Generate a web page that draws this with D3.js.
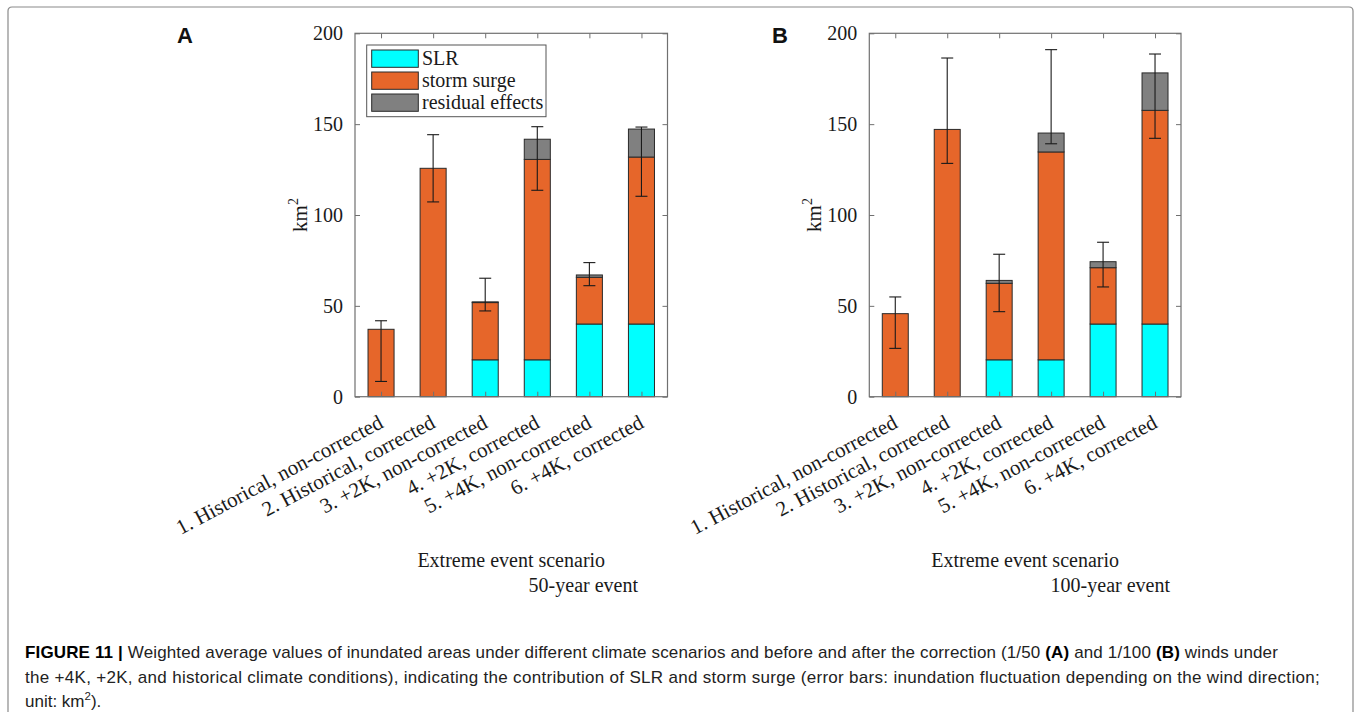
<!DOCTYPE html>
<html>
<head>
<meta charset="utf-8">
<script src="https://cdn.jsdelivr.net/npm/d3@7"></script>
<style>
  html, body { margin: 0; padding: 0; background: #fff; }
  svg { display: block; }
</style>
</head>
<body>
<svg id="chart" width="1356" height="712"></svg>
<script>
// ---------------- DATA ----------------
const categories = ["1. Historical, non-corrected", "2. Historical, corrected", "3. +2K, non-corrected",
                    "4. +2K, corrected", "5. +4K, non-corrected", "6. +4K, corrected"];
const seriesNames = ["SLR", "storm surge", "residual effects"];
const yTicks = [0, 50, 100, 150, 200];

// Panel A (50-year event)
const slrA      = [0, 0, 20.3, 20.3, 40, 40];
const surgeA    = [37.1, 125.7, 31.5, 110.3, 25.7, 91.9];
const residualA = [0, 0, 0.4, 11.1, 1.3, 15.4];
const errLowA   = [8.4, 107.2, 47.2, 113.6, 61.1, 110.3];
const errHighA  = [41.8, 144.2, 65.2, 148.6, 73.8, 148.4];

// Panel B (100-year event)
const slrB      = [0, 0, 20.3, 20.3, 40, 40];
const surgeB    = [45.7, 147.1, 42.1, 114.4, 31.0, 117.6];
const residualB = [0, 0, 1.6, 10.4, 3.3, 20.6];
const errLowB   = [26.6, 128.4, 46.8, 139.2, 60.4, 142.2];
const errHighB  = [54.9, 186.4, 78.4, 191.0, 85.0, 188.6];

const colors = ["#00FFFF", "#E6662A", "#808080"];

// ---------------- DRAW ----------------
const svg = d3.select("#chart");
const serif = "'Liberation Serif', 'Times New Roman', serif";
const sans = "'Liberation Sans', Arial, sans-serif";
const axisColor = "#707070";

// outer frame
svg.append("path")
  .attr("d", "M8,720 L8,11 Q8,7 12,7 L1349,7 Q1353,7 1353,11 L1353,720")
  .attr("fill", "none").attr("stroke", "#8a8a8a").attr("stroke-width", 1.2);

function panel(opts) {
  const g = svg.append("g");
  const x = d3.scaleLinear().domain([0.5, 6.5]).range([opts.left, opts.right]);
  const y = d3.scaleLinear().domain([0, 200]).range([396.7, 33.3]);
  const bw = x(1.25) - x(0.75);

  const rows = categories.map((c, i) => ({
    key: c, idx: i + 1,
    "SLR": opts.slr[i], "storm surge": opts.surge[i], "residual effects": opts.residual[i],
    lo: opts.errLow[i], hi: opts.errHigh[i]
  }));
  const stack = d3.stack().keys(seriesNames)(rows);

  // bars
  stack.forEach((layer, li) => {
    g.append("g").selectAll("rect").data(layer.filter(d => d[1] - d[0] > 0)).join("rect")
      .attr("x", d => x(d.data.idx) - bw / 2)
      .attr("width", bw)
      .attr("y", d => y(d[1]))
      .attr("height", d => y(d[0]) - y(d[1]))
      .attr("fill", colors[li])
      .attr("stroke", "#2a2a2a").attr("stroke-width", 1);
  });

  // error bars
  const eb = g.append("g").attr("stroke", "#1a1a1a").attr("stroke-width", 1.1);
  rows.forEach(d => {
    const cx = x(d.idx);
    eb.append("line").attr("x1", cx).attr("x2", cx).attr("y1", y(d.lo)).attr("y2", y(d.hi));
    eb.append("line").attr("x1", cx - 6).attr("x2", cx + 6).attr("y1", y(d.lo)).attr("y2", y(d.lo));
    eb.append("line").attr("x1", cx - 6).attr("x2", cx + 6).attr("y1", y(d.hi)).attr("y2", y(d.hi));
  });

  // axes box
  g.append("rect").attr("x", opts.left).attr("y", y(200))
    .attr("width", opts.right - opts.left).attr("height", y(0) - y(200))
    .attr("fill", "none").attr("stroke", axisColor).attr("stroke-width", 1.2);

  // left y axis (inward ticks)
  const yAxisL = d3.axisLeft(y).tickValues(yTicks).tickSize(-5).tickPadding(12).tickFormat(d3.format("d"));
  const gyl = g.append("g").attr("transform", `translate(${opts.left},0)`).call(yAxisL);
  gyl.select(".domain").remove();
  gyl.selectAll("line").attr("stroke", axisColor);
  gyl.selectAll("text").attr("font-family", serif).attr("font-size", 20).attr("fill", "#1a1a1a");
  // right y ticks
  const gyr = g.append("g").attr("transform", `translate(${opts.right},0)`)
    .call(d3.axisRight(y).tickValues(yTicks).tickSize(-5).tickFormat(""));
  gyr.select(".domain").remove();
  gyr.selectAll("line").attr("stroke", axisColor);

  // bottom x axis
  const xAxisB = d3.axisBottom(x).tickValues(d3.range(1, 7)).tickSize(-5).tickFormat(d => categories[d - 1]);
  const gxb = g.append("g").attr("transform", `translate(0,${y(0)})`).call(xAxisB);
  gxb.select(".domain").remove();
  gxb.selectAll("line").attr("stroke", axisColor);
  gxb.selectAll("text")
    .attr("font-family", serif).attr("font-size", 21).attr("fill", "#1a1a1a")
    .attr("text-anchor", "end")
    .attr("dy", null).attr("y", null)
    .attr("transform", "translate(3,30) rotate(-28)");
  // top ticks
  const gxt = g.append("g").attr("transform", `translate(0,${y(200)})`)
    .call(d3.axisTop(x).tickValues(d3.range(1, 7)).tickSize(-5).tickFormat(""));
  gxt.select(".domain").remove();
  gxt.selectAll("line").attr("stroke", axisColor);

  // y label
  const yl = g.append("text")
    .attr("transform", `translate(${opts.left - 48},${(y(0) + y(200)) / 2}) rotate(-90)`)
    .attr("text-anchor", "middle").attr("font-family", serif).attr("font-size", 21).attr("fill", "#1a1a1a");
  yl.append("tspan").text("km");
  yl.append("tspan").attr("font-size", 14).attr("dy", -9).text("2");

  // x labels
  const mid = (opts.left + opts.right) / 2;
  g.append("text").attr("x", mid).attr("y", 567).attr("text-anchor", "middle")
    .attr("font-family", serif).attr("font-size", 20).attr("fill", "#1a1a1a").text("Extreme event scenario");
  g.append("text").attr("x", opts.subEnd).attr("y", 592).attr("text-anchor", "end")
    .attr("font-family", serif).attr("font-size", 20).attr("fill", "#1a1a1a").text(opts.sub);

  // panel letter
  g.append("text").attr("x", opts.letterX).attr("y", 43)
    .attr("font-family", sans).attr("font-weight", "bold").attr("font-size", 22).attr("fill", "#111").text(opts.letter);

  if (opts.legend) {
    const lg = g.append("g");
    lg.append("rect").attr("x", 366.7).attr("y", 45).attr("width", 179.3).attr("height", 71.7)
      .attr("fill", "#fff").attr("stroke", "#555").attr("stroke-width", 1);
    seriesNames.forEach((s, i) => {
      const ry = 50 + i * 22;
      lg.append("rect").attr("x", 371.7).attr("y", ry).attr("width", 46.6).attr("height", 17.3)
        .attr("fill", colors[i]).attr("stroke", "#2a2a2a").attr("stroke-width", 1);
      lg.append("text").attr("x", 422).attr("y", ry + 15).attr("font-family", serif)
        .attr("font-size", 20).attr("fill", "#1a1a1a").text(s);
    });
  }
}

panel({ left: 355, right: 667.5, slr: slrA, surge: surgeA, residual: residualA,
        errLow: errLowA, errHigh: errHighA, sub: "50-year event", subEnd: 638,
        letter: "A", letterX: 177, legend: true });
panel({ left: 869.3, right: 1181, slr: slrB, surge: surgeB, residual: residualB,
        errLow: errLowB, errHigh: errHighB, sub: "100-year event", subEnd: 1170,
        letter: "B", letterX: 772, legend: false });

// ---------------- CAPTION ----------------
const capLines = [
  { y: 658, target: 1278, parts: [
    { t: "FIGURE 11", b: true }, { t: " | ", b: true },
    { t: "Weighted average values of inundated areas under different climate scenarios and before and after the correction (1/50 " },
    { t: "(A)", b: true }, { t: " and 1/100 " }, { t: "(B)", b: true }, { t: " winds under" } ] },
  { y: 683, target: 1320, parts: [
    { t: "the +4K, +2K, and historical climate conditions), indicating the contribution of SLR and storm surge (error bars: inundation fluctuation depending on the wind direction;" } ] },
  { y: 707, target: null, parts: [ { t: "unit: km" }, { t: "2", sup: true }, { t: ")." } ] }
];
capLines.forEach(line => {
  const t = svg.append("text").attr("x", 25).attr("y", line.y)
    .attr("font-family", sans).attr("font-size", 17).attr("fill", "#222");
  line.parts.forEach(p => {
    const ts = t.append("tspan").text(p.t);
    if (p.b) ts.attr("font-weight", "bold").attr("fill", "#000");
    if (p.sup) { ts.attr("font-size", 11.5).attr("dy", -7); }
    if (p.t === ").") ts.attr("dy", 7);
  });
  if (line.target) {
    const w = t.node().getComputedTextLength();
    const n = line.parts.reduce((a, p) => a + p.t.length, 0);
    t.attr("letter-spacing", ((line.target - 25) - w) / n);
  }
});
</script>
</body>
</html>
